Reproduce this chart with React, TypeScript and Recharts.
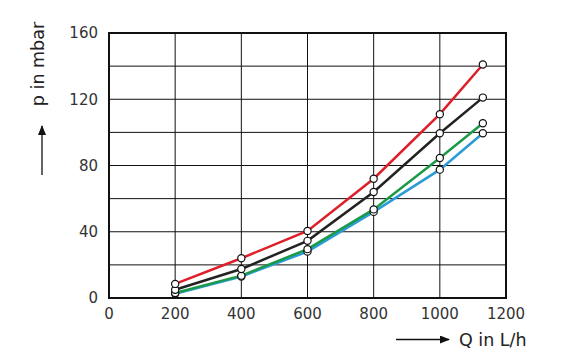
import { LineChart, Line, XAxis, YAxis, CartesianGrid, ReferenceArea } from 'recharts';

// flow rate Q in L/h
const flow = [200, 400, 600, 800, 1000, 1130];

// pressure drop p in mbar per curve
const redSeries = [8.5, 24, 40.5, 72, 111, 141];
const blackSeries = [5, 17.5, 34.5, 64, 99.5, 121];
const greenSeries = [3, 13.5, 29.5, 53.5, 84.5, 105.5];
const blueSeries = [2.5, 13, 28, 52, 77.5, 99.5];

const xTicks = [0, 200, 400, 600, 800, 1000, 1200];
const yTicks = [0, 20, 40, 60, 80, 100, 120, 140, 160];

const data = flow.map((q, i) => ({
  q,
  red: redSeries[i],
  black: blackSeries[i],
  green: greenSeries[i],
  blue: blueSeries[i],
}));

const font = '"DejaVu Sans", sans-serif';

const series = [
  { key: 'blue', color: '#2a9bd8' },
  { key: 'green', color: '#1a9a48' },
  { key: 'black', color: '#222222' },
  { key: 'red', color: '#de1f2a' },
];

export default function App() {
  return (
    <div style={{ position: 'absolute', left: 0, top: 0, width: 563, height: 364, background: '#fff' }}>
      <LineChart
        width={563}
        height={364}
        data={data}
        margin={{ top: 33, right: 57, bottom: 0, left: 0 }}
      >
        <CartesianGrid stroke="#111" strokeWidth={1} verticalPoints={undefined} />
        <XAxis
          dataKey="q"
          type="number"
          domain={[0, 1200]}
          ticks={xTicks}
          height={66}
          axisLine={false}
          tickLine={false}
          tickMargin={4}
          tick={{ fill: '#333', fontSize: 15, fontFamily: font }}
        />
        <YAxis
          type="number"
          domain={[0, 160]}
          ticks={yTicks}
          width={109}
          axisLine={false}
          tickLine={false}
          tickMargin={5}
          tickFormatter={(v: number) => (v % 40 === 0 ? String(v) : '')}
          tick={{ fill: '#333', fontSize: 15, fontFamily: font }}
        />
        <ReferenceArea x1={0} x2={1200} y1={0} y2={160} fill="none" stroke="#111" strokeWidth={2} />
        {series.map((s) => (
          <Line
            key={s.key}
            dataKey={s.key}
            stroke={s.color}
            strokeWidth={2.5}
            dot={{ r: 3.6, fill: '#fff', stroke: '#111', strokeWidth: 1.2 }}
            activeDot={false}
            isAnimationActive={false}
          />
        ))}
      </LineChart>
      <svg
        width={563}
        height={364}
        style={{ position: 'absolute', left: 0, top: 0, pointerEvents: 'none' }}
      >
        <defs>
          <marker id="head" markerWidth="10" markerHeight="8" refX="9" refY="4" orient="auto" markerUnits="userSpaceOnUse">
            <path d="M0,0 L10,4 L0,8 Z" fill="#111" />
          </marker>
        </defs>
        <line x1={42} y1={175} x2={42} y2={126} stroke="#111" strokeWidth={1.3} markerEnd="url(#head)" />
        <text
          x={44}
          y={64}
          transform="rotate(-90, 44, 64)"
          textAnchor="middle"
          fontFamily={font}
          fontSize={17.5}
          fill="#222"
        >
          p in mbar
        </text>
        <line x1={396} y1={339.5} x2={449} y2={339.5} stroke="#111" strokeWidth={1.3} markerEnd="url(#head)" />
        <text x={459} y={345.5} fontFamily={font} fontSize={17.5} fill="#222">
          Q in L/h
        </text>
      </svg>
    </div>
  );
}
